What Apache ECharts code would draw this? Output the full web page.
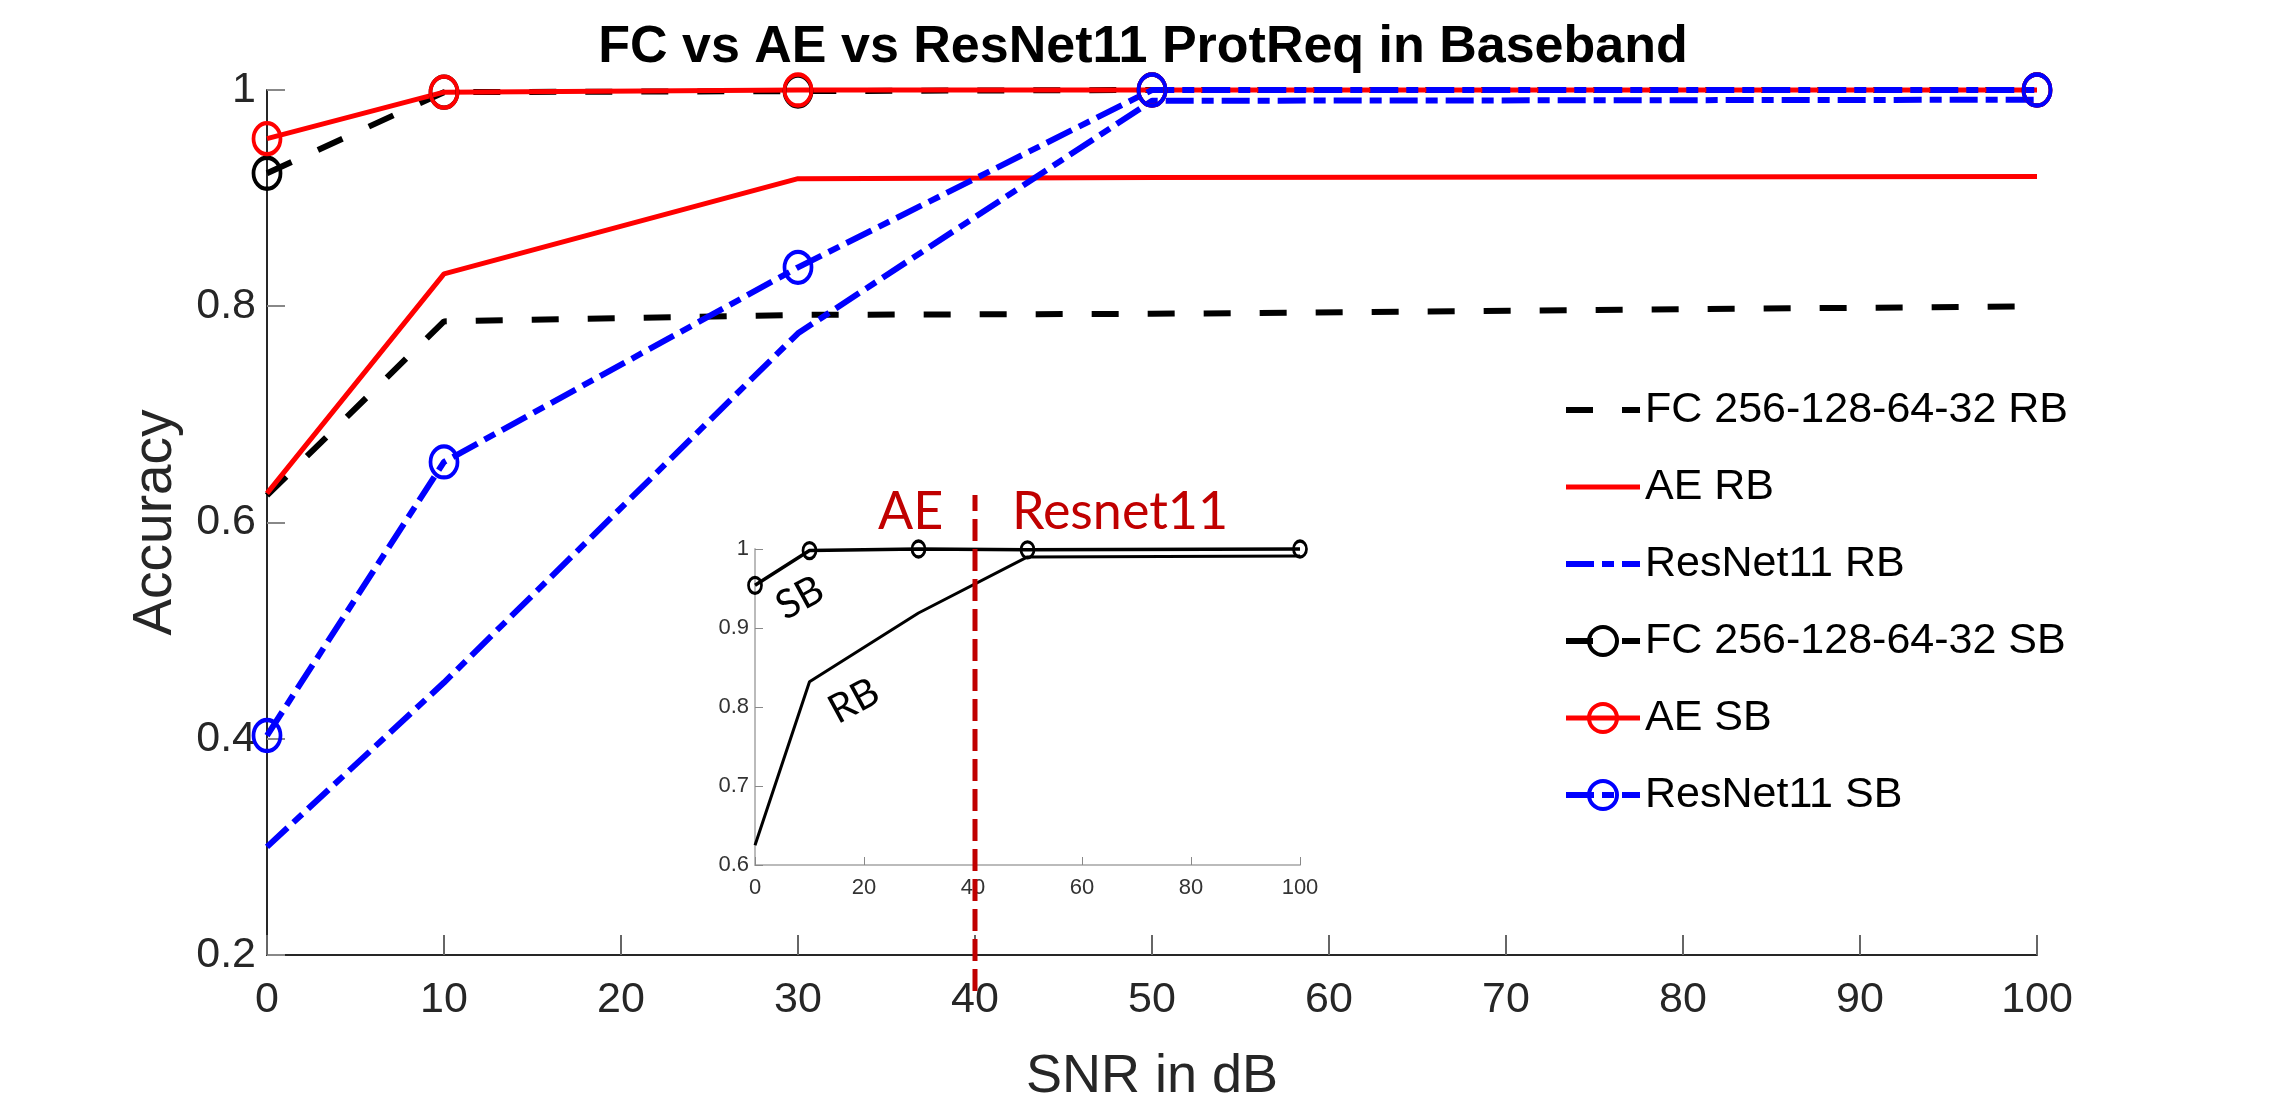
<!DOCTYPE html>
<html>
<head>
<meta charset="utf-8">
<script src="https://cdn.jsdelivr.net/npm/echarts@6/dist/echarts.min.js"></script>
<style>
html,body{margin:0;padding:0;background:#fff;}
#chart{width:2286px;height:1103px;}
</style>
</head>
<body>
<div id="chart"></div>
<script>
// ---- data ----
const snr = [0, 10, 30, 50, 100];
const fcRB = [0.625, 0.786, 0.792, 0.793, 0.800];
const aeRB = [0.627, 0.830, 0.918, 0.919, 0.920];
const resRB = [0.300, 0.452, 0.775, 0.990, 0.991];
const fcSB = [0.923, 0.998, 0.999, 1.000, 1.000];
const aeSB = [0.955, 0.998, 1.000, 1.000, 1.000];
const resSB = [0.403, 0.656, 0.836, 1.000, 1.000];
const insetSB = [0.954, 0.998, 1.000, 0.999, 1.000];
const insetRB = [0.625, 0.832, 0.919, 0.990, 0.991];
const splitSNR = 40;
const seriesNames = ['FC 256-128-64-32 RB', 'AE RB', 'ResNet11 RB',
                     'FC 256-128-64-32 SB', 'AE SB', 'ResNet11 SB'];
const xTicks = [0, 100, 10];
const yTicks = [0.2, 1, 0.2];

const pair = (ys) => snr.map((x, i) => [x, ys[i]]);
const FONT = "'Liberation Sans', Arial, Helvetica, sans-serif";
const ANN = "Lato, 'Open Sans', sans-serif";
const dashDot = [28, 8, 12, 8];
const dash = [27, 29];
const styles = [
  { color: '#000000', type: dash, width: 6, marker: false },
  { color: '#ff0000', type: 'solid', width: 5, marker: false },
  { color: '#0000ff', type: dashDot, width: 6, marker: false },
  { color: '#000000', type: dash, width: 6, marker: true },
  { color: '#ff0000', type: 'solid', width: 5, marker: true },
  { color: '#0000ff', type: dashDot, width: 6, marker: true }
];
const seriesData = [fcRB, aeRB, resRB, fcSB, aeSB, resSB];
const CLEAR = 'rgba(255,255,255,0)';

function mainLine(i) {
  const st = styles[i];
  return {
    name: seriesNames[i], type: 'line', xAxisIndex: 0, yAxisIndex: 0,
    data: pair(seriesData[i]), clip: false,
    lineStyle: { color: st.color, width: st.width, type: st.type, cap: 'butt' },
    symbol: st.marker ? 'circle' : 'none',
    symbolSize: [27, 31],
    showSymbol: st.marker,
    itemStyle: { color: st.marker ? CLEAR : st.color, borderColor: st.color, borderWidth: 4 },
    emphasis: { disabled: true },
    animation: false
  };
}

const legendData = seriesNames.map((n, i) => {
  const st = styles[i];
  return {
    name: n,
    lineStyle: { color: st.color, width: st.width, type: st.type, cap: 'butt' },
    itemStyle: st.marker
      ? { color: CLEAR, borderColor: st.color, borderWidth: 4 }
      : { color: CLEAR, borderColor: CLEAR, borderWidth: 0 }
  };
});

const chart = echarts.init(document.getElementById('chart'), null, { renderer: 'canvas' });
const option = {
  backgroundColor: '#ffffff',
  animation: false,
  title: {
    text: 'FC vs AE vs ResNet11 ProtReq in Baseband',
    left: 'center', top: 17,
    textStyle: { fontFamily: FONT, fontWeight: 'bold', fontSize: 52, color: '#000' }
  },
  legend: {
    orient: 'vertical', left: 1558, top: 381,
    itemWidth: 74, itemHeight: 35, itemGap: 29,
    data: legendData,
    textStyle: { fontFamily: FONT, fontSize: 43, color: '#000', lineHeight: 48 },
    selectedMode: false
  },
  grid: [
    { left: 267, right: 249, top: 90, bottom: 148, containLabel: false, outerBoundsMode: 'none' },
    { left: 755, top: 549, width: 545, height: 316, containLabel: false, outerBoundsMode: 'none' },
    { left: 267, right: 249, top: 495, bottom: 112, containLabel: false, outerBoundsMode: 'none' }
  ],
  xAxis: [
    {
      gridIndex: 0, type: 'value', min: xTicks[0], max: xTicks[1], interval: xTicks[2],
      name: 'SNR in dB', nameLocation: 'middle', nameGap: 95,
      nameTextStyle: { fontFamily: FONT, fontSize: 54, color: '#262626' },
      axisLine: { show: true, onZero: false, lineStyle: { color: '#262626', width: 2 } },
      axisTick: { show: true, inside: true, length: 20, lineStyle: { color: '#666', width: 2 } },
      axisLabel: { fontFamily: FONT, fontSize: 43, color: '#262626', margin: 24 },
      splitLine: { show: false }
    },
    {
      gridIndex: 1, type: 'value', min: 0, max: 100, interval: 20,
      axisLine: { show: true, onZero: false, lineStyle: { color: '#bbbbbb', width: 2 } },
      axisTick: { show: true, inside: true, length: 8, lineStyle: { color: '#888', width: 1 } },
      axisLabel: { fontFamily: FONT, fontSize: 22, color: '#333', margin: 12 },
      splitLine: { show: false }
    },
    { gridIndex: 2, type: 'value', min: 0, max: 100, show: false }
  ],
  yAxis: [
    {
      gridIndex: 0, type: 'value', min: yTicks[0], max: yTicks[1], interval: yTicks[2],
      name: 'Accuracy', nameLocation: 'middle', nameGap: 84, nameRotate: 90,
      nameTextStyle: { fontFamily: FONT, fontSize: 55, color: '#262626' },
      axisLine: { show: true, onZero: false, lineStyle: { color: '#262626', width: 2 } },
      axisTick: { show: true, inside: true, length: 18, lineStyle: { color: '#888', width: 2 } },
      axisLabel: { fontFamily: FONT, fontSize: 43, color: '#262626', margin: 11,
                   formatter: v => (Math.abs(v - 1) < 1e-9 ? '1' : v.toFixed(1)) },
      splitLine: { show: false }
    },
    {
      gridIndex: 1, type: 'value', min: 0.6, max: 1, interval: 0.1,
      axisLine: { show: true, onZero: false, lineStyle: { color: '#bbbbbb', width: 2 } },
      axisTick: { show: true, inside: true, length: 8, lineStyle: { color: '#888', width: 1 } },
      axisLabel: { fontFamily: FONT, fontSize: 22, color: '#333', margin: 6,
                   formatter: v => (Math.abs(v - 1) < 1e-9 ? '1' : v.toFixed(1)) },
      splitLine: { show: false }
    },
    { gridIndex: 2, type: 'value', min: 0, max: 1, show: false }
  ],
  series: [
    mainLine(0), mainLine(1), mainLine(2), mainLine(3), mainLine(4), mainLine(5),
    {
      name: 'inset RB', type: 'line', xAxisIndex: 1, yAxisIndex: 1, data: pair(insetRB),
      symbol: 'none', lineStyle: { color: '#000', width: 3 }, clip: false, emphasis: { disabled: true }
    },
    {
      name: 'inset SB', type: 'line', xAxisIndex: 1, yAxisIndex: 1, data: pair(insetSB),
      symbol: 'circle', symbolSize: [13, 16], clip: false,
      lineStyle: { color: '#000', width: 3.5 },
      itemStyle: { color: CLEAR, borderColor: '#000', borderWidth: 3 },
      emphasis: { disabled: true }
    },
    {
      name: 'split', type: 'line', xAxisIndex: 2, yAxisIndex: 2,
      data: [[splitSNR, 0], [splitSNR, 1]], symbol: 'none', clip: false,
      lineStyle: { color: '#c00000', width: 5, type: [22, 8] }, z: 5,
      emphasis: { disabled: true }
    }
  ],
  graphic: [
    { type: 'text', left: 878, top: 486,
      style: { text: 'AE', fontFamily: ANN, fontSize: 52, fill: '#c00000' } },
    { type: 'text', left: 1012, top: 486,
      style: { text: 'Resnet11', fontFamily: ANN, fontSize: 52, fill: '#c00000' } },
    { type: 'text', x: 800, y: 598, rotation: 0.5,
      style: { text: 'SB', fontFamily: ANN, fontSize: 40, fill: '#000',
               align: 'center', verticalAlign: 'middle' } },
    { type: 'text', x: 854, y: 701, rotation: 0.5,
      style: { text: 'RB', fontFamily: ANN, fontSize: 40, fill: '#000',
               align: 'center', verticalAlign: 'middle' } }
  ]
};
chart.setOption(option);
</script>
</body>
</html>
